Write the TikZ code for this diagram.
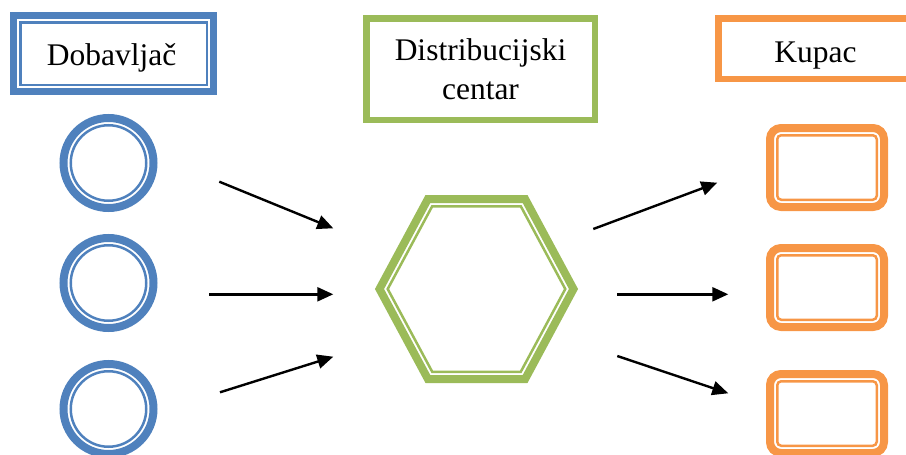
\documentclass[tikz,border=0pt]{standalone}
\usepackage{fontspec}
\setmainfont{Liberation Serif}
\usetikzlibrary{arrows.meta, positioning}

\definecolor{supblue}{RGB}{79,129,189}
\definecolor{dcgreen}{RGB}{155,187,89}
\definecolor{custorange}{RGB}{247,150,70}

\begin{document}
\begin{tikzpicture}[x=1pt, y=-1pt,
    headtext/.style={font=\fontsize{31.5}{39}\selectfont, inner sep=0pt},
    thickline/.style={line width=8pt},
    thinline/.style={line width=2.5pt},
    flow/.style={line width=2.4pt, -{Triangle[length=16pt,width=14pt]}}]
                \clip (0,0) rectangle (906,455);

                % Headers
                \draw[supblue, line width=7pt] (13.5,15.5) rectangle (213.5,91.5);
                \draw[supblue, thinline] (20.25,22.25) rectangle (206.75,84.75);
                \node[headtext, anchor=base] (dobtitle) at (111.5,65) {Dobavljač};

                \draw[dcgreen, line width=6.5pt] (366.25,18.25) rectangle (594.75,119.75);
                \node[headtext, align=center] (dctitle) at (480.5,69.5) {Distribucijski\\centar};

                \draw[custorange, line width=6.5pt] (718.25,18.25) rectangle (911.75,78.75);
                \node[headtext, anchor=base] (kuptitle) at (815.5,62) {Kupac};

                % Suppliers
                \draw[supblue, thickline] (108.5,163) circle[radius=45pt];
                \draw[supblue, thinline] (108.5,163) circle[radius=37.75pt];

                \draw[supblue, thickline] (108.5,283) circle[radius=45pt];
                \draw[supblue, thinline] (108.5,283) circle[radius=37.75pt];

                \draw[supblue, thickline] (108.5,409) circle[radius=45pt];
                \draw[supblue, thinline] (108.5,409) circle[radius=37.75pt];

                % Distribution centre
                \draw[dcgreen, thickline] (379.5,289) -- (427.9,199) -- (525.1,199)
                    -- (573.5,289) -- (525.1,379) -- (427.9,379) -- cycle;
                \draw[dcgreen, thinline] (387.7,289) -- (432.2,206.25) -- (520.8,206.25)
                    -- (565.3,289) -- (520.8,371.75) -- (432.2,371.75) -- cycle;

                % Customers
                \draw[custorange, thickline, rounded corners=11pt] (770,128) rectangle (884,207);
                \draw[custorange, thinline, rounded corners=4pt] (777.25,135.25) rectangle (876.75,199.75);

                \draw[custorange, thickline, rounded corners=11pt] (770,248) rectangle (884,327);
                \draw[custorange, thinline, rounded corners=4pt] (777.25,255.25) rectangle (876.75,319.75);

                \draw[custorange, thickline, rounded corners=11pt] (770,374) rectangle (884,453);
                \draw[custorange, thinline, rounded corners=4pt] (777.25,381.25) rectangle (876.75,445.75);

                % Flow ends
                \coordinate (dob1) at (219.3,181.7);
                \coordinate (dob2) at (209.3,294.3);
                \coordinate (dob3) at (220,392.3);
                \coordinate (dcin1) at (333.3,228.3);
                \coordinate (dcin2) at (333.3,294.3);
                \coordinate (dcin3) at (333.3,356.7);
                \coordinate (dcout1) at (593.3,229);
                \coordinate (dcout2) at (617.3,294.3);
                \coordinate (dcout3) at (617.3,356);
                \coordinate (kup1) at (717.3,182.7);
                \coordinate (kup2) at (728.3,294.3);
                \coordinate (kup3) at (728.3,393.3);

                % Flows
                \draw[flow] (dob1) -- (dcin1);
                \draw[flow] (dob2) -- (dcin2);
                \draw[flow] (dob3) -- (dcin3);
                \draw[flow] (dcout1) -- (kup1);
                \draw[flow] (dcout2) -- (kup2);
                \draw[flow] (dcout3) -- (kup3);
            \end{tikzpicture}
\end{document}
